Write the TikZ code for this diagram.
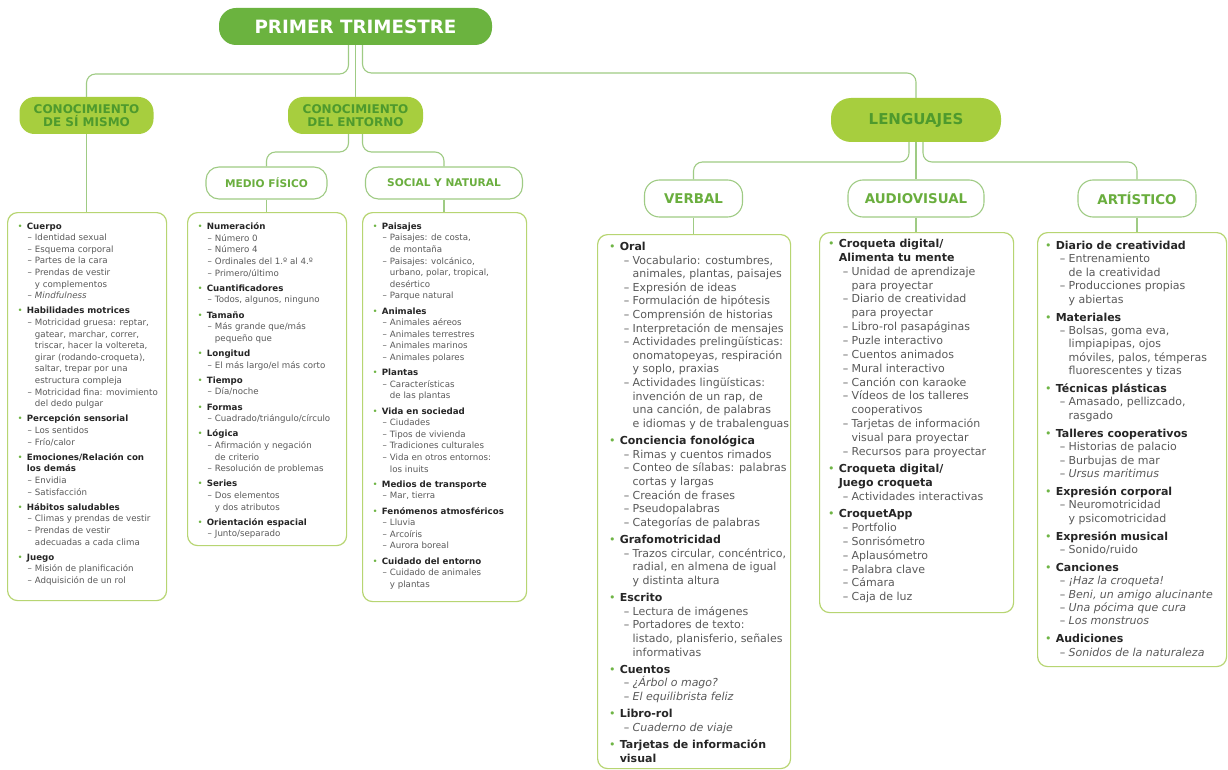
\documentclass[tikz,border=0pt]{standalone}
\usepackage{fontspec}
\setmainfont{DejaVu Sans}
\definecolor{dkg}{HTML}{6BB33F}
\definecolor{ltg}{HTML}{A7CE3E}
\definecolor{txg}{HTML}{4E9A2D}
\definecolor{wtg}{HTML}{6AAE3E}
\definecolor{lnc}{HTML}{9FCB84}
\definecolor{bxc}{HTML}{B7D572}
\definecolor{hdc}{HTML}{262626}
\definecolor{itc}{HTML}{5A5A5A}
\definecolor{bul}{HTML}{6FB545}
\newcommand\bwd{1em}\newcommand\dwd{1.2em}\newcommand\ddd{0.75em}
\newcommand\bH[1]{\makebox[\bwd][l]{\textcolor{bul}{\textbullet}}\textbf{\textcolor{hdc}{#1}}}
\newcommand\bC[1]{\hspace*{\bwd}\textbf{\textcolor{hdc}{#1}}}
\newcommand\dI[1]{\hspace*{\dwd}\makebox[\ddd][l]{–}#1}
\newcommand\dC[1]{\hspace*{\dwd}\hspace*{\ddd}#1}
\tikzset{
  conn/.style={draw=lnc, line width=1.1pt, rounded corners=9pt},
  pillD/.style={fill=dkg, text=white, font=\bfseries\fontsize{18.3}{20}\selectfont, rounded corners=17pt, inner sep=0pt},
  pillL/.style={fill=ltg, text=txg, font=\bfseries\fontsize{12}{13}\selectfont, rounded corners=15pt, align=center, inner sep=0pt},
  pillW/.style={draw=lnc, fill=white, line width=1.1pt, text=wtg, font=\bfseries\fontsize{10.6}{12}\selectfont, rounded corners=13pt, inner sep=0pt},
  cbox/.style={draw=bxc, line width=1.2pt, rounded corners=10pt, inner sep=0pt, anchor=north west},
  ltxt/.style={anchor=north west, align=left, inner sep=0pt, text=itc, font=\fontsize{8.67}{11.6}\selectfont,
    execute at begin node={\renewcommand\bwd{1.07em}\renewcommand\dwd{1.15em}\renewcommand\ddd{0.85em}}},
  rtxt/.style={anchor=north west, align=left, inner sep=0pt, text=itc,
    execute at begin node={\renewcommand\bwd{0.98em}\renewcommand\dwd{1.35em}\renewcommand\ddd{0.8em}}},
}
\begin{document}
\begin{tikzpicture}[x=1pt,y=-1pt]
\useasboundingbox[fill=white] (0,0) rectangle (1228,770);
% pills
\node[pillD, minimum width=273pt, minimum height=37pt] (top) at (355.5,26.5) {PRIMER TRIMESTRE};
\node[pillL, minimum width=134pt, minimum height=37pt] (ksm) at (86.5,115.5) {CONOCIMIENTO\\DE SÍ MISMO};
\node[pillL, minimum width=135pt, minimum height=37pt] (kde) at (355.5,115.5) {CONOCIMIENTO\\DEL ENTORNO};
\node[pillW, minimum width=121pt, minimum height=32pt] (mf) at (266.5,183) {MEDIO FÍSICO};
\node[pillW, minimum width=157pt, minimum height=32pt] (sn) at (444,183) {SOCIAL Y NATURAL};
\node[pillL, minimum width=170pt, minimum height=44pt, rounded corners=20pt, font=\bfseries\fontsize{15}{16}\selectfont] (len) at (916,120) {LENGUAJES};
\node[pillW, minimum width=98pt, minimum height=37pt, rounded corners=15pt, font=\bfseries\fontsize{13.4}{14}\selectfont] (vb) at (693.5,198.5) {VERBAL};
\node[pillW, minimum width=136pt, minimum height=37pt, rounded corners=15pt, font=\bfseries\fontsize{13.4}{14}\selectfont] (av) at (916,198.5) {AUDIOVISUAL};
\node[pillW, minimum width=118pt, minimum height=37pt, rounded corners=15pt, font=\bfseries\fontsize{13.4}{14}\selectfont] (ar) at (1137,198.5) {ARTÍSTICO};
% boxes
\node[cbox, minimum width=159pt, minimum height=388pt] (b1) at (7,212) {};
\node[cbox, minimum width=159pt, minimum height=333pt] (b2) at (187,212) {};
\node[cbox, minimum width=164pt, minimum height=389pt] (b3) at (362,212) {};
\node[cbox, minimum width=193pt, minimum height=534pt] (bv) at (597,234) {};
\node[cbox, minimum width=194pt, minimum height=380pt] (bav) at (819,232) {};
\node[cbox, minimum width=189pt, minimum height=434pt] (bart) at (1037,232) {};
% connectors
\draw[conn] ([xshift=-7pt]top.south) |- (ksm.north |- 0,74) -- (ksm.north);
\draw[conn] (top.south) -- (kde.north);
\draw[conn] ([xshift=7pt]top.south) |- (len.north |- 0,73) -- (len.north);
\draw[conn] (ksm.south) -- (ksm.south |- b1.north);
\draw[conn] ([xshift=-7pt]kde.south) |- (mf.north |- 0,152) -- (mf.north);
\draw[conn] ([xshift=7pt]kde.south) |- (sn.north |- 0,152) -- (sn.north);
\draw[conn] (mf.south) -- (mf.south |- b2.north);
\draw[conn] (sn.south) -- (sn.south |- b3.north);
\draw[conn] ([xshift=-7pt]len.south) |- (vb.north |- 0,162) -- (vb.north);
\draw[conn] (len.south) -- (av.north);
\draw[conn] ([xshift=7pt]len.south) |- (ar.north |- 0,162) -- (ar.north);
\draw[conn] (vb.south) -- (vb.south |- bv.north);
\draw[conn] (av.south) -- (av.south |- bav.north);
\draw[conn] (ar.south) -- (ar.south |- bart.north);
% texts
\node[ltxt] (t1) at (17.4,222.5) {%
\bH{Cuerpo}\\
\dI{Identidad sexual}\\
\dI{Esquema corporal}\\
\dI{Partes de la cara}\\
\dI{Prendas de vestir}\\
\dC{y complementos}\\
\dI{\textit{Mindfulness}}\\[3.6pt]
\bH{Habilidades motrices}\\
\dI{Motricidad gruesa: reptar,}\\
\dC{gatear, marchar, correr,}\\
\dC{triscar, hacer la voltereta,}\\
\dC{girar (rodando-croqueta),}\\
\dC{saltar, trepar por una}\\
\dC{estructura compleja}\\
\dI{Motricidad fina: movimiento}\\
\dC{del dedo pulgar}\\[3.6pt]
\bH{Percepción sensorial}\\
\dI{Los sentidos}\\
\dI{Frío/calor}\\[3.6pt]
\bH{Emociones/Relación con}\\
\bC{los demás}\\
\dI{Envidia}\\
\dI{Satisfacción}\\[3.6pt]
\bH{Hábitos saludables}\\
\dI{Climas y prendas de vestir}\\
\dI{Prendas de vestir}\\
\dC{adecuadas a cada clima}\\[3.6pt]
\bH{Juego}\\
\dI{Misión de planificación}\\
\dI{Adquisición de un rol}};
\node[ltxt] (t2) at (197.4,222.5) {%
\bH{Numeración}\\
\dI{Número 0}\\
\dI{Número 4}\\
\dI{Ordinales del 1.º al 4.º}\\
\dI{Primero/último}\\[3.6pt]
\bH{Cuantificadores}\\
\dI{Todos, algunos, ninguno}\\[3.6pt]
\bH{Tamaño}\\
\dI{Más grande que/más}\\
\dC{pequeño que}\\[3.6pt]
\bH{Longitud}\\
\dI{El más largo/el más corto}\\[3.6pt]
\bH{Tiempo}\\
\dI{Día/noche}\\[3.6pt]
\bH{Formas}\\
\dI{Cuadrado/triángulo/círculo}\\[3.6pt]
\bH{Lógica}\\
\dI{Afirmación y negación}\\
\dC{de criterio}\\
\dI{Resolución de problemas}\\[3.6pt]
\bH{Series}\\
\dI{Dos elementos}\\
\dC{y dos atributos}\\[3.6pt]
\bH{Orientación espacial}\\
\dI{Junto/separado}};
\node[ltxt] (t3) at (372.4,222.5) {%
\bH{Paisajes}\\
\dI{Paisajes: de costa,}\\
\dC{de montaña}\\
\dI{Paisajes: volcánico,}\\
\dC{urbano, polar, tropical,}\\
\dC{desértico}\\
\dI{Parque natural}\\[3.6pt]
\bH{Animales}\\
\dI{Animales aéreos}\\
\dI{Animales terrestres}\\
\dI{Animales marinos}\\
\dI{Animales polares}\\[3.6pt]
\bH{Plantas}\\
\dI{Características}\\
\dC{de las plantas}\\[3.6pt]
\bH{Vida en sociedad}\\
\dI{Ciudades}\\
\dI{Tipos de vivienda}\\
\dI{Tradiciones culturales}\\
\dI{Vida en otros entornos:}\\
\dC{los inuits}\\[3.6pt]
\bH{Medios de transporte}\\
\dI{Mar, tierra}\\[3.6pt]
\bH{Fenómenos atmosféricos}\\
\dI{Lluvia}\\
\dI{Arcoíris}\\
\dI{Aurora boreal}\\[3.6pt]
\bH{Cuidado del entorno}\\
\dI{Cuidado de animales}\\
\dC{y plantas}};
\node[rtxt, font=\fontsize{11}{13.6}\selectfont] (tv) at (608.8,242) {%
\bH{Oral}\\
\dI{Vocabulario: costumbres,}\\
\dC{animales, plantas, paisajes}\\
\dI{Expresión de ideas}\\
\dI{Formulación de hipótesis}\\
\dI{Comprensión de historias}\\
\dI{Interpretación de mensajes}\\
\dI{Actividades prelingüísticas:}\\
\dC{onomatopeyas, respiración}\\
\dC{y soplo, praxias}\\
\dI{Actividades lingüísticas:}\\
\dC{invención de un rap, de}\\
\dC{una canción, de palabras}\\
\dC{e idiomas y de trabalenguas}\\[3.7pt]
\bH{Conciencia fonológica}\\
\dI{Rimas y cuentos rimados}\\
\dI{Conteo de sílabas: palabras}\\
\dC{cortas y largas}\\
\dI{Creación de frases}\\
\dI{Pseudopalabras}\\
\dI{Categorías de palabras}\\[3.7pt]
\bH{Grafomotricidad}\\
\dI{Trazos circular, concéntrico,}\\
\dC{radial, en almena de igual}\\
\dC{y distinta altura}\\[3.7pt]
\bH{Escrito}\\
\dI{Lectura de imágenes}\\
\dI{Portadores de texto:}\\
\dC{listado, planisferio, señales}\\
\dC{informativas}\\[3.7pt]
\bH{Cuentos}\\
\dI{\textit{¿Árbol o mago?}}\\
\dI{\textit{El equilibrista feliz}}\\[3.7pt]
\bH{Libro-rol}\\
\dI{\textit{Cuaderno de viaje}}\\[3.7pt]
\bH{Tarjetas de información}\\
\bC{visual}};
\node[rtxt, font=\fontsize{11}{13.85}\selectfont] (tav) at (827.8,239) {%
\bH{Croqueta digital/}\\
\bC{Alimenta tu mente}\\
\dI{Unidad de aprendizaje}\\
\dC{para proyectar}\\
\dI{Diario de creatividad}\\
\dC{para proyectar}\\
\dI{Libro-rol pasapáginas}\\
\dI{Puzle interactivo}\\
\dI{Cuentos animados}\\
\dI{Mural interactivo}\\
\dI{Canción con karaoke}\\
\dI{Vídeos de los talleres}\\
\dC{cooperativos}\\
\dI{Tarjetas de información}\\
\dC{visual para proyectar}\\
\dI{Recursos para proyectar}\\[3.5pt]
\bH{Croqueta digital/}\\
\bC{Juego croqueta}\\
\dI{Actividades interactivas}\\[3.5pt]
\bH{CroquetApp}\\
\dI{Portfolio}\\
\dI{Sonrisómetro}\\
\dI{Aplausómetro}\\
\dI{Palabra clave}\\
\dI{Cámara}\\
\dI{Caja de luz}};
\node[rtxt, font=\fontsize{11}{13.4}\selectfont] (tart) at (1044.8,241) {%
\bH{Diario de creatividad}\\
\dI{Entrenamiento}\\
\dC{de la creatividad}\\
\dI{Producciones propias}\\
\dC{y abiertas}\\[4.5pt]
\bH{Materiales}\\
\dI{Bolsas, goma eva,}\\
\dC{limpiapipas, ojos}\\
\dC{móviles, palos, témperas}\\
\dC{fluorescentes y tizas}\\[4.5pt]
\bH{Técnicas plásticas}\\
\dI{Amasado, pellizcado,}\\
\dC{rasgado}\\[4.5pt]
\bH{Talleres cooperativos}\\
\dI{Historias de palacio}\\
\dI{Burbujas de mar}\\
\dI{\textit{Ursus maritimus}}\\[4.5pt]
\bH{Expresión corporal}\\
\dI{Neuromotricidad}\\
\dC{y psicomotricidad}\\[4.5pt]
\bH{Expresión musical}\\
\dI{Sonido/ruido}\\[4.5pt]
\bH{Canciones}\\
\dI{\textit{¡Haz la croqueta!}}\\
\dI{\textit{Beni, un amigo alucinante}}\\
\dI{\textit{Una pócima que cura}}\\
\dI{\textit{Los monstruos}}\\[4.5pt]
\bH{Audiciones}\\
\dI{\textit{Sonidos de la naturaleza}}};
\end{tikzpicture}
\end{document}
